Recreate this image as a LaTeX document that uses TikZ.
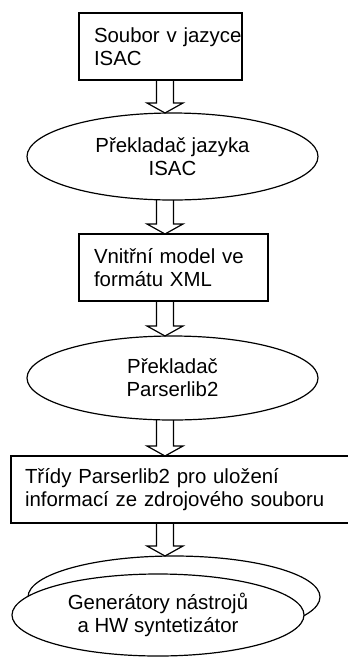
\documentclass[tikz,border=0pt]{standalone}
\usepackage{fontspec}
\setmainfont{Liberation Sans}
\usetikzlibrary{shapes.geometric,calc}

\tikzset{
  base/.style={font=\fontsize{20.4pt}{23pt}\selectfont, line width=1.2pt, outer sep=0pt},
  databox/.style={base, draw, rectangle, anchor=north west, inner xsep=0pt, inner ysep=0pt,
    align=left, minimum height=67pt, execute at begin node={\leftskip=15pt}},
  translator/.style={base, draw, ellipse, inner sep=0pt, align=center, fill=white},
  hollow/.style={line width=1.2pt, line join=miter},
}

% hollow block arrow pointing down from node #1 to node #2
\newcommand\flowarrow[2]{%
  \draw[hollow] let \p1=(#1.south), \p2=(#2.north) in
    (156.5pt,\y1) -- (156.5pt,\y2+10pt) -- (147pt,\y2+10pt) -- (165pt,\y2)
    -- (183pt,\y2+10pt) -- (173.5pt,\y2+10pt) -- (173.5pt,\y1);}

\begin{document}
\begin{tikzpicture}[x=1pt,y=-1pt]
  \clip (0,0) rectangle (348,657);
  \fill[white] (0,0) rectangle (348,657);

  \node[databox, text width=163pt] (src) at (79,13) {Soubor v jazyce\\ISAC};
  \node[translator, minimum width=291pt, minimum height=87pt] (isac) at (172.5,156.5)
    {Překladač jazyka\\ISAC};
  \node[databox, text width=189pt] (xml) at (79,234) {Vnitřní model ve\\formátu XML};
  \node[translator, minimum width=291pt, minimum height=84pt] (plib) at (172.5,378)
    {Překladač\\Parserlib2};
  \node[databox, text width=341pt, execute at begin node={\leftskip=14pt}] (cls) at (11,456)
    {Třídy Parserlib2 pro uložení\\informací ze zdrojového souboru};
  \node[translator, minimum width=292pt, minimum height=82pt] (genback) at (174,597) {};
  \node[translator, minimum width=292pt, minimum height=82pt] (gen) at (158,615)
    {Generátory nástrojů\\a HW syntetizátor};

  \flowarrow{src}{isac}
  \flowarrow{isac}{xml}
  \flowarrow{xml}{plib}
  \flowarrow{plib}{cls}
  \flowarrow{cls}{genback}
\end{tikzpicture}
\end{document}
